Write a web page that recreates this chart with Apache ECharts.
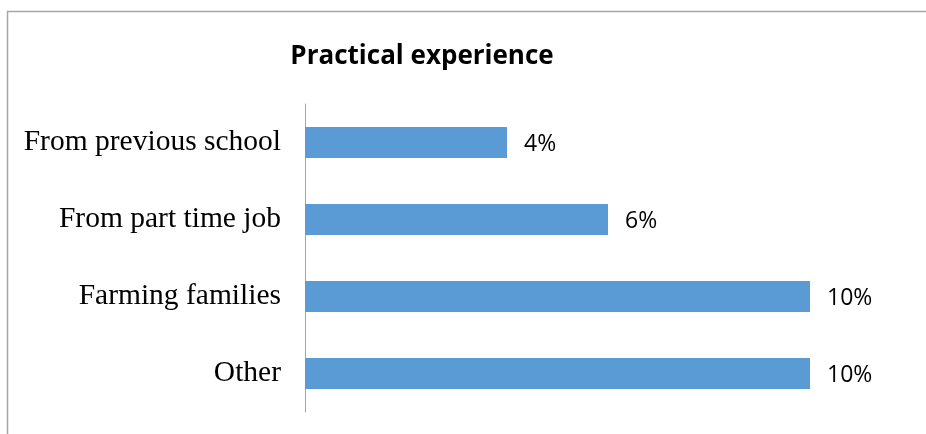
<!DOCTYPE html>
<html>
<head>
<meta charset="utf-8">
<script src="https://cdn.jsdelivr.net/npm/echarts@6/dist/echarts.min.js"></script>
<style>
  html, body { margin: 0; padding: 0; background: #fff; }
  #chart { width: 926px; height: 434px; }
</style>
</head>
<body>
<div id="chart"></div>
<script>
// Sources of practical experience, share of respondents (%)
const categories = ['From previous school', 'From part time job', 'Farming families', 'Other'];
const shares = [4, 6, 10, 10];

const chart = echarts.init(document.getElementById('chart'));

chart.setOption({
  animation: false,
  backgroundColor: '#ffffff',
  title: {
    text: 'Practical experience',
    left: 417,
    top: 39,
    textAlign: 'center',
    textStyle: {
      fontFamily: 'Open Sans',
      fontWeight: 'bold',
      fontSize: 26,
      color: '#000'
    }
  },
  graphic: [{
    type: 'polyline',
    shape: { points: [[7.5, 440], [7.5, 11.5], [940, 11.5]] },
    style: { stroke: '#a6a6a6', lineWidth: 1.5, fill: null },
    silent: true
  }],
  grid: { left: 305, right: 116, top: 104, bottom: 22, containLabel: false },
  xAxis: {
    type: 'value',
    min: 0,
    max: 10,
    show: false
  },
  yAxis: {
    type: 'category',
    data: categories,
    inverse: true,
    axisLine: { show: true, lineStyle: { color: '#a6a6a6', width: 1 } },
    axisTick: { show: false },
    axisLabel: {
      margin: 24,
      padding: [4, 0, 0, 0],
      fontFamily: 'Liberation Serif',
      fontSize: 29.5,
      color: '#000'
    }
  },
  series: [{
    type: 'bar',
    data: shares,
    barWidth: 31,
    itemStyle: { color: '#5b9bd5' },
    label: {
      show: true,
      position: 'right',
      distance: 17,
      offset: [0, 2],
      formatter: p => p.value + '%',
      fontFamily: 'Open Sans',
      fontSize: 23,
      color: '#000'
    }
  }]
});
</script>
</body>
</html>
